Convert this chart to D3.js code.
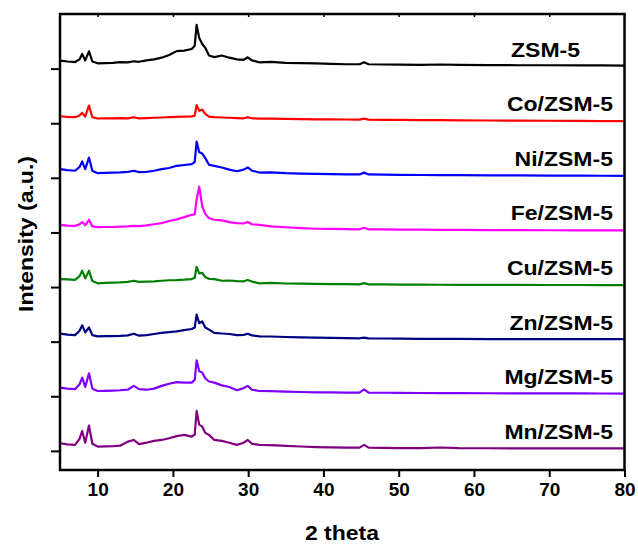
<!DOCTYPE html>
<html>
<head>
<meta charset="utf-8">
<script src="https://cdn.jsdelivr.net/npm/d3@7"></script>
<style>
  html, body { margin: 0; padding: 0; background: #fff; }
  svg { display: block; }
  text { font-family: "Liberation Sans", Arial, sans-serif; font-weight: bold; fill: #000; }
</style>
</head>
<body>
<svg id="chart" width="638" height="544"></svg>
<script>
// ---- data ----
const twoTheta = [5, 6, 7, 7.6, 7.95, 8.35, 8.85, 9.3, 10, 11, 12, 13, 14, 14.8, 15.5, 16.5, 17.5, 18.5, 19.5, 20.5,
  21.5, 22.5, 22.9, 23.15, 23.5, 23.9, 24.3, 24.8, 25.5, 26.5, 27.5, 28.5, 29.4, 29.95, 30.5, 31.5, 33, 35, 37, 39,
  41, 43, 44.8, 45.4, 46, 48, 50, 53, 55.5, 58, 62, 66, 70, 74, 77, 80];

const sampleNames = ["ZSM-5", "Co/ZSM-5", "Ni/ZSM-5", "Fe/ZSM-5", "Cu/ZSM-5", "Zn/ZSM-5", "Mg/ZSM-5", "Mn/ZSM-5"];
const sampleColors = ["#000000", "#ff0000", "#0000ff", "#ff00ff", "#008000", "#000080", "#8000ff", "#800080"];
const sampleOffsets = [7000, 6000, 5000, 4000, 3000, 2000, 1000, 0];

const zsm5 = [146, 130, 120, 170, 270, 150, 317, 130, 97, 100, 105, 120, 115, 135, 125, 150, 170, 200, 250, 320,
  330, 360, 420, 800, 560, 450, 380, 240, 210, 240, 200, 170, 160, 207, 150, 115, 125, 105, 100, 95,
  85, 80, 80, 115, 80, 75, 72, 70, 75, 68, 65, 62, 62, 58, 58, 55];
const coZsm5 = [128, 115, 110, 140, 190, 120, 324, 110, 86, 88, 90, 92, 90, 110, 90, 95, 100, 105, 110, 115,
  120, 125, 140, 330, 230, 250, 170, 120, 110, 105, 100, 95, 90, 110, 90, 85, 85, 80, 75, 72,
  70, 68, 65, 85, 65, 62, 60, 58, 55, 52, 50, 48, 45, 42, 40, 37];
const niZsm5 = [160, 140, 130, 200, 300, 160, 370, 130, 86, 90, 95, 100, 110, 130, 105, 110, 130, 160, 180, 220,
  235, 250, 290, 665, 470, 445, 360, 240, 220, 190, 150, 120, 150, 190, 130, 97, 100, 85, 78, 72,
  68, 65, 62, 95, 62, 60, 55, 52, 50, 48, 45, 44, 42, 40, 38, 37];
const feZsm5 = [140, 125, 120, 150, 190, 130, 232, 110, 97, 100, 100, 105, 110, 120, 115, 130, 150, 170, 210, 240,
  280, 324, 330, 600, 840, 475, 340, 260, 232, 220, 190, 170, 165, 190, 150, 140, 110, 95, 80, 68,
  65, 60, 58, 85, 58, 55, 52, 50, 48, 46, 44, 42, 40, 39, 38, 37];
const cuZsm5 = [146, 140, 130, 200, 300, 160, 300, 110, 68, 75, 80, 85, 95, 115, 95, 100, 105, 115, 125, 128,
  135, 146, 170, 370, 250, 260, 180, 150, 146, 115, 120, 110, 105, 128, 100, 68, 75, 65, 62, 58,
  55, 52, 50, 72, 50, 48, 46, 44, 42, 40, 40, 39, 38, 38, 37, 37];
const znZsm5 = [146, 130, 120, 200, 300, 170, 260, 120, 97, 100, 100, 105, 115, 146, 110, 120, 140, 160, 175, 190,
  210, 232, 260, 494, 340, 370, 260, 220, 160, 150, 140, 120, 125, 146, 115, 97, 95, 85, 80, 75,
  70, 65, 62, 75, 60, 58, 55, 52, 50, 50, 48, 48, 47, 46, 45, 45];
const mgZsm5 = [160, 140, 130, 220, 342, 170, 420, 140, 97, 100, 105, 110, 120, 190, 130, 120, 140, 190, 230, 260,
  250, 250, 300, 660, 460, 433, 330, 270, 250, 200, 170, 110, 150, 190, 120, 97, 95, 85, 78, 72,
  70, 68, 68, 128, 68, 65, 62, 60, 58, 56, 55, 54, 53, 52, 51, 50];
const mnZsm5 = [140, 120, 110, 220, 365, 150, 463, 130, 79, 82, 85, 95, 170, 200, 123, 150, 183, 200, 232, 270,
  293, 262, 300, 731, 480, 445, 330, 293, 200, 183, 150, 110, 150, 200, 130, 110, 105, 90, 80, 70,
  65, 60, 60, 110, 60, 55, 52, 50, 62, 50, 48, 47, 46, 46, 45, 45];

const seriesValues = [zsm5, coZsm5, niZsm5, feZsm5, cuZsm5, znZsm5, mgZsm5, mnZsm5];
const xTicks = [10, 20, 30, 40, 50, 60, 70, 80];
const yTicks = [0, 1000, 2000, 3000, 4000, 5000, 6000, 7000];

(function draw() {
  const svg = d3.select("#chart");
  const mLeft = 60, mRight = 624.5, mTop = 14, mBottom = 470;

  const x = d3.scaleLinear().domain([5, 80]).range([mLeft, mRight]);
  const y = d3.scaleLinear().domain([-350, 8000]).range([mBottom, mTop]);

  // series
  const line = d3.line().x(d => x(d[0])).y(d => y(d[1]));
  seriesValues.forEach((vals, i) => {
    const pts = twoTheta.map((t, k) => [t, vals[k] + sampleOffsets[i]]);
    svg.append("path")
      .attr("d", line(pts))
      .attr("fill", "none")
      .attr("stroke", sampleColors[i])
      .attr("stroke-width", 2.2)
      .attr("stroke-linejoin", "round");
  });

  // labels
  sampleNames.forEach((name, i) => {
    const isPlain = i === 0;
    const t = svg.append("text")
      .attr("x", isPlain ? 580 : 613)
      .attr("y", y(sampleOffsets[i]) - 12)
      .attr("text-anchor", "end")
      .style("font-size", "20px")
      .text(name);
    const w = t.node().getComputedTextLength();
    t.attr("textLength", w * 1.15).attr("lengthAdjust", "spacingAndGlyphs");
  });

  // axes
  const xAxis = d3.axisBottom(x).tickValues(xTicks).tickSize(7).tickPadding(6).tickFormat(d3.format("d"));
  const gx = svg.append("g").attr("transform", `translate(0,${mBottom})`).call(xAxis);
  gx.select(".domain").remove();
  gx.selectAll(".tick line").attr("stroke", "#000").attr("stroke-width", 2);
  gx.selectAll(".tick text").style("font-size", "19px").style("font-family", '"Liberation Sans", Arial, sans-serif').style("font-weight", "bold").attr("fill", "#000");

  const xTop = d3.axisTop(x).tickValues(xTicks).tickSize(-3).tickFormat("");
  const gxt = svg.append("g").attr("transform", `translate(0,${mTop})`).call(xTop);
  gxt.select(".domain").remove();
  gxt.selectAll(".tick line").attr("stroke", "#000").attr("stroke-width", 1.5);

  const yAxis = d3.axisLeft(y).tickValues(yTicks).tickSize(9).tickFormat("");
  const gy = svg.append("g").attr("transform", `translate(${mLeft},0)`).call(yAxis);
  gy.select(".domain").remove();
  gy.selectAll(".tick line").attr("stroke", "#000").attr("stroke-width", 2);

  // frame
  svg.append("rect")
    .attr("x", mLeft).attr("y", mTop)
    .attr("width", mRight - mLeft).attr("height", mBottom - mTop)
    .attr("fill", "none").attr("stroke", "#000").attr("stroke-width", 2.5);

  // axis titles
  const xt = svg.append("text")
    .attr("x", 342).attr("y", 540)
    .attr("text-anchor", "middle")
    .style("font-size", "20px")
    .text("2 theta");
  xt.attr("textLength", xt.node().getComputedTextLength() * 1.15).attr("lengthAdjust", "spacingAndGlyphs");

  const yt = svg.append("text")
    .attr("transform", "translate(33,234) rotate(-90)")
    .attr("text-anchor", "middle")
    .style("font-size", "20px")
    .text("Intensity (a.u.)");
  yt.attr("textLength", yt.node().getComputedTextLength() * 1.15).attr("lengthAdjust", "spacingAndGlyphs");
})();
</script>
</body>
</html>
